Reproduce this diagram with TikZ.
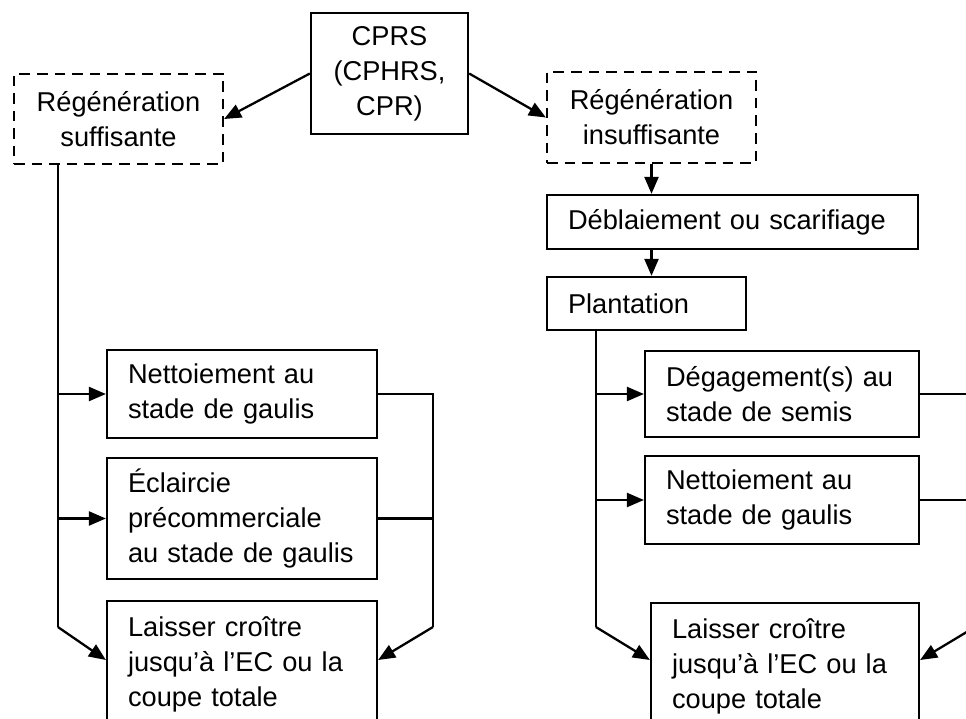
\documentclass[tikz,border=0pt]{standalone}
\usepackage{fontspec}
\setmainfont{Liberation Sans}
\usetikzlibrary{arrows.meta}
\tikzset{
	box/.style={draw, line width=1.3pt, inner xsep=0.42cm, inner ysep=0pt,
		font=\fontsize{15.5pt}{19.9pt}\selectfont, align=left},
	dbox/.style={box, dash pattern=on 6pt off 4pt, align=center},
	link/.style={line width=1.3pt},
	arr/.style={link, -{Triangle[length=0.34cm, width=0.28cm]}},
}
\begin{document}
\begin{tikzpicture}[x=0.02cm, y=-0.02cm]
	% 1 unit = 1 px, y going down
	\useasboundingbox (0,0) rectangle (966,719);
	\clip (0,0) rectangle (966,719);

	\node[box, align=center, minimum width=3.14cm, minimum height=2.42cm] (cprs) at (389.5,73.5) {CPRS\\(CPHRS,\\CPR)};
	\node[dbox, minimum width=4.18cm, minimum height=1.8cm] (suff) at (118.5,119) {Régénération\\suffisante};
	\node[dbox, minimum width=4.18cm, minimum height=1.82cm] (insuff) at (651.5,117.5) {Régénération\\insuffisante};
	\node[box, text width=6.58cm, minimum height=1.08cm] (debl) at (732.5,222) {Déblaiement ou scarifiage};
	\node[box, text width=3.14cm, minimum height=1.06cm] (plant) at (646.5,303.5) {Plantation};

	% left branch
	\node[box, text width=4.56cm, minimum height=1.76cm] (nett1) at (242,394) {Nettoiement au\\stade de gaulis};
	\node[box, text width=4.56cm, minimum height=2.42cm] (ecl) at (242,518.5) {Éclaircie\\précommerciale\\au stade de gaulis};
	\node[box, text width=4.56cm, minimum height=2.52cm, anchor=north] (lais1) at (242,600) {Laisser croître\\jusqu’à l’EC ou la\\coupe totale};

	% right branch
	\node[box, text width=4.64cm, minimum height=1.72cm] (deg) at (782,394) {Dégagement(s) au\\stade de semis};
	\node[box, text width=4.64cm, minimum height=1.76cm] (nett2) at (782,500) {Nettoiement au\\stade de gaulis};
	\node[box, text width=4.52cm, minimum height=2.52cm, anchor=north] (lais2) at (785,602) {Laisser croître\\jusqu’à l’EC ou la\\coupe totale};

	\draw[arr] (cprs.west) -- (suff.east);
	\draw[arr] (cprs.east) -- (insuff.west);
	\draw[arr] (insuff.south) -- (insuff.south |- debl.north);
	\draw[arr] (insuff.south |- debl.south) -- (insuff.south |- plant.north);

	\coordinate (l1a) at ([yshift=-1.2cm]lais1.north west);
	\coordinate (l1b) at ([yshift=-1.2cm]lais1.north east);
	\coordinate (l2a) at ([yshift=-1.16cm]lais2.north west);
	\coordinate (l2b) at ([yshift=-1.16cm]lais2.north east);

	\coordinate (ltop) at ([xshift=0.9cm]suff.south west);
	\coordinate (lbot) at (ltop |- 0,627);
	\coordinate (lrb) at (433,627);
	\draw[link] (ltop) -- (lbot);
	\draw[arr] (lbot) -- (l1a);
	\draw[arr] (nett1.west -| ltop) -- (nett1.west);
	\draw[arr] (ecl.west -| ltop) -- (ecl.west);
	\draw[link] (nett1.east) -- (nett1.east -| lrb) -- (lrb);
	\draw[link] (ecl.east) -- (ecl.east -| lrb);
	\draw[arr] (lrb) -- (l1b);

	\coordinate (rtop) at ([xshift=1cm]plant.south west);
	\coordinate (rbot) at (rtop |- 0,627);
	\coordinate (rrb) at (975,627);
	\draw[link] (rtop) -- (rbot);
	\draw[arr] (rbot) -- (l2a);
	\draw[arr] (deg.west -| rtop) -- (deg.west);
	\draw[arr] (nett2.west -| rtop) -- (nett2.west);
	\draw[link] (deg.east) -- (deg.east -| rrb) -- (rrb);
	\draw[link] (nett2.east) -- (nett2.east -| rrb);
	\draw[arr] (rrb) -- (l2b);
\end{tikzpicture}
\end{document}
